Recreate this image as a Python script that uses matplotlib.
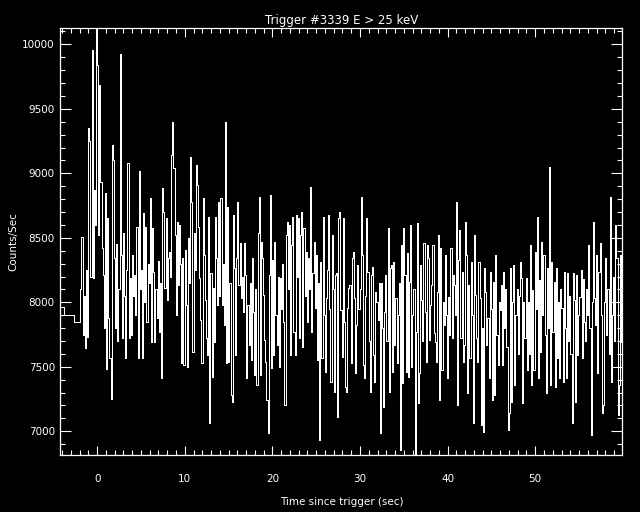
import numpy as np
import matplotlib
matplotlib.use("Agg")
import matplotlib.pyplot as plt
from matplotlib.ticker import MultipleLocator

# ---- data ----
title = "Trigger #3339 E > 25 keV"
xlabel = "Time since trigger (sec)"
ylabel = "Counts/Sec"

# pre-trigger (coarse) bins
pre_edges = [-4.19, -3.75, -2.64]
pre_counts = [7966, 7901, 7845]

# fine bins
fine_start = -1.92
fine_dt = 0.128
fine_counts = [
    8100, 8509, 7747, 8050, 7644, 8250, 7730, 9349, 9250, 8200,
    9956, 8186, 8870, 8600, 10129, 9840, 8522, 9685, 8936, 8418,
    8212, 7799, 8845, 7481, 8651, 7876, 7566, 7248, 9220, 9103,
    8340, 7799, 8450, 7700, 8100, 9923, 8367, 7721, 8535, 8050,
    7566, 8250, 9078, 7721, 8186, 7747, 8367, 8050, 8212, 7900,
    8586, 7566, 9021, 8100, 8250, 7566, 8690, 8000, 8580, 7850,
    8300, 8150, 8806, 7695, 8574, 8238, 7695, 8100, 7876, 8320,
    7773, 8150, 7411, 8884, 8703, 8109, 8651, 8020, 8340, 8393,
    8200, 9142, 9400, 9039, 8522, 7902, 8625, 8134, 8600, 8300,
    7527, 8340, 7514, 8406, 7980, 7501, 8496, 8150, 9129, 8780,
    7618, 8535, 8250, 9065, 8910, 8587, 8186, 7863, 7527, 8806,
    8367, 8018, 7721, 7592, 8664, 7062, 8225, 7424, 8109, 7695,
    8664, 8341, 7980, 8780, 8050, 8806, 7980, 8300, 7824, 9400,
    7527, 8742, 7540, 8150, 7282, 7230, 8677, 8264, 7592, 8340,
    8780, 8135, 8457, 8031, 8199, 7928, 8457, 8212, 7411, 7980,
    7670, 8147, 7553, 8340, 7928, 7437, 8100, 7359, 8535, 8819,
    7437, 8470, 8340, 8057, 7708, 7540, 7243, 6985, 8212, 8832,
    7488, 8328, 7592, 8470, 7900, 7669, 8200, 7501, 8186, 7950,
    8300, 7850, 7204, 8522, 8625, 8100, 8600, 7592, 8444, 8664,
    7773, 7592, 8677, 8200, 8651, 7721, 8522, 8703, 7657, 8574,
    8050, 8393, 7850, 8341, 8100, 8897, 7773, 8225, 8470, 7954,
    8367, 7553, 8150, 6933, 8315, 7566, 8664, 7900, 7463, 8031,
    8250, 8677, 7950, 7385, 8522, 8100, 7307, 8212, 8225, 7114,
    8651, 8703, 7941, 7579, 8651, 7850, 7346, 7307, 7954, 8109,
    8134, 7527, 8341, 8393, 8031, 7450, 7824, 8290, 7950, 8100,
    8819, 8367, 7514, 7411, 8050, 8651, 8238, 7700, 7307, 8212,
    8276, 7592, 7385, 8083, 8005, 7863, 8150, 6985, 8147, 7800,
    7191, 7928, 8212, 7700, 8574, 7307, 8264, 8290, 7463, 8315,
    7669, 8031, 7527, 7900, 8150, 6856, 8444, 7372, 8574, 8212,
    7463, 8380, 7424, 8160, 8600, 7501, 7900, 8100, 6817, 7773,
    8612, 7217, 7450, 8290, 8018, 7700, 8457, 7928, 7540, 8444,
    8341, 7708, 7980, 8134, 8444, 7760, 7695, 7540, 8083, 8522,
    7243, 8419, 7476, 8005, 7824, 8367, 7900, 7411, 8044, 7750,
    8419, 7721, 8212, 8134, 7900, 8780, 7204, 8328, 8561, 7721,
    8238, 7540, 7669, 8625, 8367, 7295, 8134, 7566, 8315, 7900,
    7062, 8522, 8057, 7721, 7540, 8315, 8031, 7049, 7800, 6997,
    8263, 8083, 7669, 7876, 7411, 8238, 7950, 7243, 8160, 7282,
    8367, 7747, 7514, 8000, 7941, 8134, 7514, 8238, 7800, 8100,
    7650, 7010, 7140, 8263, 7230, 8000, 8290, 7360, 7900, 8100,
    7600, 8050, 8315, 8186, 7217, 8005, 7721, 8186, 7476, 8005,
    7600, 8444, 7359, 8096, 7476, 8393, 7950, 8664, 7411, 8173,
    7618, 8470, 7900, 8367, 7750, 7294, 8264, 7800, 9052, 7359,
    8315, 7773, 8160, 7346, 8264, 7566, 8000, 7411, 8100, 7954,
    7385, 8238, 7800, 7411, 8225, 7700, 8050, 7600, 7062, 8225,
    8018, 7230, 8212, 7592, 7900, 8044, 8251, 7566, 8180, 7850,
    7700, 8100, 7900, 8444, 7800, 6972, 8000, 8625, 8031, 7824,
    8367, 7450, 8238, 8457, 7900, 7140, 7204, 8000, 8341, 7750,
    8100, 7600, 8819, 7385, 7900, 8200, 7700, 8600, 8341, 7127,
    7359, 8367, 7695, 7540,
]

x_range = (-4.19, 59.95)
y_range = (6816, 10129)

# ---- build edges ----
fine_edges = fine_start + fine_dt * np.arange(len(fine_counts) + 1)
edges = np.concatenate([pre_edges, fine_edges])
values = np.array(pre_counts + fine_counts, dtype=float)

# ---- figure ----
fig = plt.figure(figsize=(6.4, 5.12), dpi=100, facecolor="black")
ax = fig.add_axes([0.0944, 0.1113, 0.9725 - 0.0944, 0.9459 - 0.1113])
ax.set_facecolor("black")

ax.stairs(values, edges, baseline=None, color="white", linewidth=0.72,
          antialiased=False)

ax.set_xlim(*x_range)
ax.set_ylim(*y_range)

for s in ax.spines.values():
    s.set_color("white")
    s.set_linewidth(0.9)

ax.xaxis.set_major_locator(MultipleLocator(10))
ax.xaxis.set_minor_locator(MultipleLocator(1))
ax.yaxis.set_major_locator(MultipleLocator(500))
ax.yaxis.set_minor_locator(MultipleLocator(100))

ax.tick_params(which="both", direction="in", colors="white",
               top=True, right=True, labelsize=7.5)
ax.tick_params(axis="x", which="major", length=6.5, width=0.8, pad=14)
ax.tick_params(axis="x", which="minor", length=3.4, width=0.8)
ax.tick_params(axis="y", which="major", length=7.7, width=0.8, pad=4)
ax.tick_params(axis="y", which="minor", length=3.6, width=0.8)

ax.set_title(title, color="white", fontsize=8.5, pad=3)
ax.set_xlabel(xlabel, color="white", fontsize=7.5, labelpad=9)
ax.set_ylabel(ylabel, color="white", fontsize=7.5)
ax.yaxis.set_label_coords(-0.074, 0.5)

fig.savefig("out.png", dpi=100, facecolor="black")
